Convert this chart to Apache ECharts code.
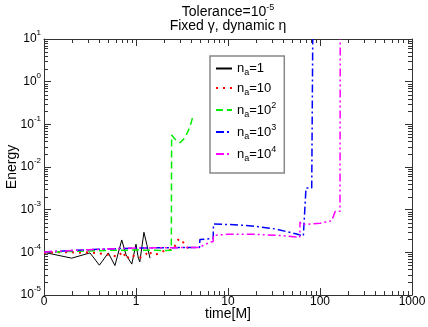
<!DOCTYPE html>
<html><head><meta charset="utf-8">
<script src="https://cdn.jsdelivr.net/npm/echarts@6/dist/echarts.min.js"></script>
<style>html,body{margin:0;padding:0;background:#fff}#c{width:428px;height:327px}</style>
</head><body><div id="c"></div>
<script>
// ---- data ----
const seriesNames = ['na=1', 'na=10', 'na=10^2', 'na=10^3', 'na=10^4'];
const legendLabels = ['{b|n}{sub|a}{b|=1}', '{b|n}{sub|a}{b|=10}', '{b|n}{sub|a}{b|=10}{sup|2}', '{b|n}{sub|a}{b|=10}{sup|3}', '{b|n}{sub|a}{b|=10}{sup|4}'];
const xTickValues = [0.1, 1, 10, 100, 1000];
const xTickLabels = ['0', '1', '10', '100', '1000'];

const blackX = [0.1, 0.2, 0.316, 0.40, 0.5, 0.59, 0.70, 0.78, 0.90, 1.0, 1.06, 1.10, 1.22, 1.42];
const blackY = [1.0e-4, 7.3e-5, 9.7e-5, 5.0e-5, 9.7e-5, 4.9e-5, 1.95e-4, 8.7e-5, 5.3e-5, 1.55e-4, 7.3e-5, 6.0e-5, 2.95e-4, 7.3e-5];

const redX = [0.1, 0.143, 0.169, 0.2, 0.236, 0.303, 0.39, 0.46, 0.52, 0.63, 0.72, 0.79, 0.86, 1.0, 1.12, 1.29, 1.36, 1.52, 1.70, 2.12, 2.43, 2.63, 2.8, 3.0, 3.33, 3.7];
const redY = [9.8e-5, 1.0e-4, 1.0e-4, 1.0e-4, 9.8e-5, 1.0e-4, 9.5e-5, 9.1e-5, 8.7e-5, 7.9e-5, 1.04e-4, 6.9e-5, 8.7e-5, 7.9e-5, 7.6e-5, 9.1e-5, 1.09e-4, 8.7e-5, 9.1e-5, 1.13e-4, 1.13e-4, 1.36e-4, 1.88e-4, 2.1e-4, 1.63e-4, 1.24e-4];

const greenX = [0.1, 0.2, 0.3, 0.6, 1.0, 1.5, 2.0, 2.42, 2.44, 2.65, 3.0, 3.3, 3.6, 3.86, 4.13];
const greenY = [1.0e-4, 1.05e-4, 1.08e-4, 1.12e-4, 1.13e-4, 1.12e-4, 1.1e-4, 1.12e-4, 5.6e-2, 4.5e-2, 3.7e-2, 4.5e-2, 6.2e-2, 8.8e-2, 1.46e-1];

const blueX = [0.1, 0.2, 0.3, 0.6, 1.0, 2.0, 3.0, 4.9, 4.95, 6.9, 6.95, 10, 15, 20, 33.8, 43.4, 55.8, 65.9, 68.7, 70.4, 81.3, 83.4];
const blueY = [1.02e-4, 1.1e-4, 1.15e-4, 1.22e-4, 1.26e-4, 1.28e-4, 1.29e-4, 1.3e-4, 2.0e-4, 2.1e-4, 4.6e-4, 4.5e-4, 4.3e-4, 4.05e-4, 3.5e-4, 3.05e-4, 2.7e-4, 2.4e-4, 2.3e-4, 3.2e-3, 3.2e-3, 10];

const magX = [0.1, 0.2, 0.3, 0.6, 1.0, 2.0, 3.0, 4.9, 5.5, 6.5, 6.9, 6.95, 10, 20, 40, 55, 60.2, 60.7, 62, 80, 100, 134, 146, 165, 166];
const magY = [1.02e-4, 1.1e-4, 1.15e-4, 1.22e-4, 1.26e-4, 1.28e-4, 1.29e-4, 1.3e-4, 1.5e-4, 1.75e-4, 1.8e-4, 2.5e-4, 2.65e-4, 2.65e-4, 2.45e-4, 2.3e-4, 2.25e-4, 5.2e-4, 4.5e-4, 4.6e-4, 4.8e-4, 5.5e-4, 9.0e-4, 9.2e-4, 10];

// minor tick values (2..9 within each decade)
const xMinor = [];
[0.1, 1, 10, 100].forEach(d => { for (let k = 2; k <= 9; k++) xMinor.push(+(d * k).toPrecision(3)); });
const yMinor = [];
[1e-5, 1e-4, 1e-3, 1e-2, 1e-1, 1].forEach(d => { for (let k = 2; k <= 9; k++) yMinor.push(+(d * k).toPrecision(3)); });

const pairs = (xs, ys) => xs.map((x, i) => [x, ys[i]]);
const FONT = 'Liberation Sans, Arial, Helvetica, sans-serif';
const AX = '#333';
const XMIN = 0.1, XMAX = 1000, YMIN = 1e-5, YMAX = 10;

const chart = echarts.init(document.getElementById('c'), null, {renderer: 'canvas'});

function xAxisCfg(pos, main) {
  return {
    type: 'log', logBase: 10, min: XMIN, max: XMAX, position: pos,
    axisLine: {show: true, lineStyle: {color: AX, width: 1}},
    axisTick: {show: true, inside: true, length: 7, lineStyle: {color: AX}},
    axisLabel: main ? {show: true, fontFamily: FONT, fontSize: 12, color: '#000', margin: 1,
      formatter: v => { const i = xTickValues.findIndex(t => Math.abs(Math.log10(t) - Math.log10(v)) < 1e-6); return i >= 0 ? xTickLabels[i] : ''; }}
      : {show: false},
    splitLine: {show: false},
    name: main ? 'time[M]' : '', nameLocation: 'middle', nameGap: 12, nameMoveOverlap: false,
    nameTextStyle: {fontFamily: FONT, fontSize: 14, color: '#000', verticalAlign: 'top'}
  };
}
function yAxisCfg(pos, main) {
  return {
    type: 'log', logBase: 10, min: YMIN, max: YMAX, position: pos,
    axisLine: {show: true, lineStyle: {color: AX, width: 1}},
    axisTick: {show: true, inside: true, length: 7, lineStyle: {color: AX}},
    axisLabel: main ? {show: true, margin: 3, color: '#000',
      formatter: v => '{b|10}{sup|' + Math.round(Math.log10(v)) + '}',
      rich: {b: {fontFamily: FONT, fontSize: 12, lineHeight: 20, color: '#000'},
             sup: {fontFamily: FONT, fontSize: 8, lineHeight: 8, verticalAlign: 'top', color: '#000'}}}
      : {show: false},
    splitLine: {show: false},
    name: main ? 'Energy' : '', nameLocation: 'middle', nameGap: 32, nameRotate: 90, nameMoveOverlap: false,
    nameTextStyle: {fontFamily: FONT, fontSize: 14, color: '#000', verticalAlign: 'middle'}
  };
}

const styles = [
  {color: '#000000', width: 1, type: 'solid'},
  {color: '#ff0000', width: 2, type: [2, 5]},
  {color: '#00ee00', width: 1.5, type: [7, 4]},
  {color: '#0000ff', width: 1.5, type: [8, 3, 2, 3]},
  {color: '#ff00ff', width: 1.5, type: [8, 3, 2, 3, 2, 3]}
];
const datasets = [pairs(blackX, blackY), pairs(redX, redY), pairs(greenX, greenY), pairs(blueX, blueY), pairs(magX, magY)];

const lineSeries = datasets.map((d, i) => ({
  name: seriesNames[i], type: 'line', data: d, xAxisIndex: 0, yAxisIndex: 0,
  symbol: 'none', showSymbol: false, smooth: false, clip: true,
  lineStyle: styles[i], itemStyle: {color: styles[i].color}, z: 2 + i
}));

// minor ticks drawn through the axes' own scales
const tickLine = (x1, y1, x2, y2) => ({type: 'line', shape: {x1, y1, x2, y2}, style: {stroke: AX, lineWidth: 1}});
const minorX = {
  type: 'custom', name: 'minorX', xAxisIndex: 0, yAxisIndex: 0, clip: false, silent: true, z: 10,
  data: xMinor.map(v => [v]),
  encode: {x: 0},
  renderItem: (params, api) => {
    const b = api.coord([api.value(0), YMIN]);
    const t = api.coord([api.value(0), YMAX]);
    const x = Math.round(b[0]) + 0.5;
    return {type: 'group', children: [tickLine(x, b[1], x, b[1] - 4), tickLine(x, t[1], x, t[1] + 4)]};
  }
};
const minorY = {
  type: 'custom', name: 'minorY', xAxisIndex: 0, yAxisIndex: 0, clip: false, silent: true, z: 10,
  data: yMinor.map(v => [XMIN, v]),
  encode: {x: 0, y: 1},
  renderItem: (params, api) => {
    const l = api.coord([XMIN, api.value(1)]);
    const r = api.coord([XMAX, api.value(1)]);
    const y = Math.round(l[1]) + 0.5;
    return {type: 'group', children: [tickLine(l[0], y, l[0] + 4, y), tickLine(r[0], y, r[0] - 4, y)]};
  }
};

chart.setOption({
  animation: false,
  backgroundColor: '#fff',
  title: [
    {text: '{b|Tolerance=10}{sup|-5}', left: 228, top: 3, textAlign: 'center', padding: 0,
     textStyle: {fontWeight: 'normal', rich: {b: {fontFamily: FONT, fontSize: 14, fontWeight: 'normal', lineHeight: 18, color: '#000'},
                        sup: {fontFamily: FONT, fontSize: 9, fontWeight: 'normal', lineHeight: 8, verticalAlign: 'top', color: '#000'}}}},
    {text: 'Fixed γ, dynamic η', left: 228, top: 18, textAlign: 'center', padding: 0,
     textStyle: {fontFamily: FONT, fontSize: 14, fontWeight: 'normal', color: '#000', lineHeight: 16}}
  ],
  grid: {left: 44, right: 16, top: 39, bottom: 32, containLabel: false, outerBoundsMode: 'none'},
  xAxis: [xAxisCfg('bottom', true), xAxisCfg('top', false)],
  yAxis: [yAxisCfg('left', true), yAxisCfg('right', false)],
  legend: {
    orient: 'vertical', left: 210, top: 56,
    padding: [6, 8, 10, 5], itemGap: 4, itemWidth: 16, itemHeight: 10,
    borderColor: '#888', borderWidth: 1.5, backgroundColor: '#fff',
    itemStyle: {opacity: 0},
    data: seriesNames,
    formatter: name => legendLabels[seriesNames.indexOf(name)],
    textStyle: {rich: {
      b: {fontFamily: FONT, fontSize: 13, lineHeight: 18, color: '#000'},
      sub: {fontFamily: FONT, fontSize: 9, lineHeight: 8, verticalAlign: 'bottom', color: '#000'},
      sup: {fontFamily: FONT, fontSize: 9, lineHeight: 8, verticalAlign: 'top', color: '#000'}
    }}
  },
  series: lineSeries.concat([minorX, minorY])
});
</script></body></html>
